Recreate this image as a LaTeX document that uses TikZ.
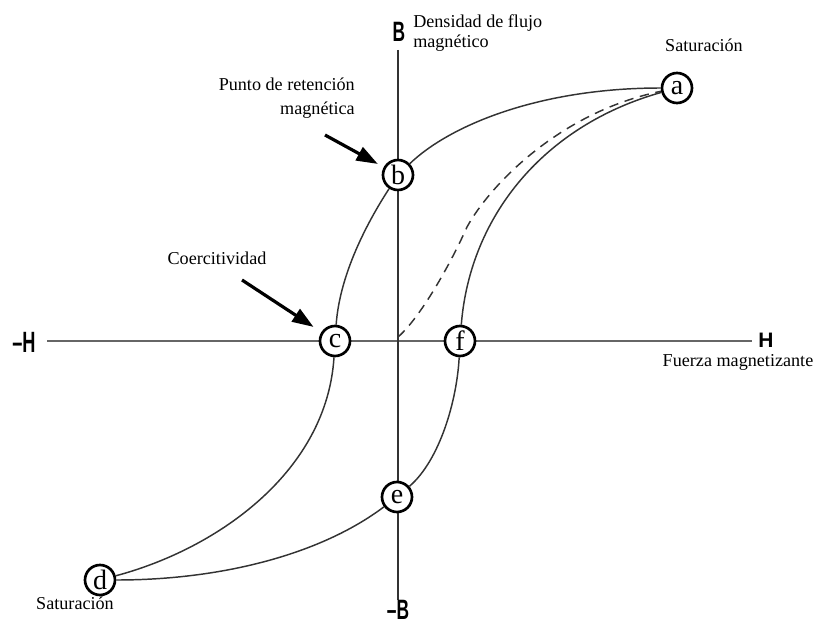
\documentclass[tikz,border=0pt]{standalone}
\usepackage{fontspec}
\setmainfont{Liberation Serif}
\newfontfamily\axfont{Liberation Sans}
\usetikzlibrary{arrows.meta}
\definecolor{curvegray}{HTML}{333333}
\definecolor{axisgray}{HTML}{666666}
\begin{document}
\begin{tikzpicture}[x=0.75pt,y=-0.75pt,
  mpt/.style={circle,draw=black,line width=2pt,fill=white,minimum size=22.5pt,inner sep=0pt,font=\fontsize{21}{21}\selectfont},
  lbl/.style={font=\fontsize{13.6}{15}\selectfont,inner sep=0pt},
  axl/.style={inner sep=0pt},
  hyst/.style={draw=curvegray,line width=1.1pt},
  pointer/.style={draw=black,line width=2.4pt,-{Triangle[length=16pt,width=11pt]}},
]
\useasboundingbox (0,0) rectangle (818,624);
% axes
\coordinate (hl) at (47,341);
\coordinate (hr) at (752,341);
\coordinate (vt) at (398,50);
\coordinate (vb) at (398,600);
\coordinate (o) at (398,337);
\draw[axisgray,line width=2pt] (hl) -- (hr);
\draw[curvegray,line width=1.3pt] (vt) -- (vb);
% points
\node[mpt] (a) at (677,88) {a};
\node[mpt] (b) at (398,175) {b};
\node[mpt] (c) at (335,341) {c};
\node[mpt] (f) at (460,341) {f};
\node[mpt] (e) at (397,497) {e};
\node[mpt] (d) at (100,580) {d};
% hysteresis loop
\draw[hyst] (a) .. controls (540,88) and (450,125) .. (b);
\draw[hyst] (b) .. controls (372,215) and (340,270) .. (c);
\draw[hyst] (c) .. controls (327,470) and (220,548) .. (d);
\draw[hyst] (d) .. controls (220,580) and (320,555) .. (e);
\draw[hyst] (e) .. controls (440,460) and (457,400) .. (f);
\draw[hyst] (f) .. controls (470,215) and (545,125) .. (a);
\coordinate (dm) at (467,227);
\draw[hyst,dash pattern=on 7pt off 5pt] (o) .. controls (420,318) and (450,265) .. (dm) .. controls (490,185) and (560,112) .. (a);
% labels
\node[axl] (B) at (399,32) {\scalebox{0.62}[1]{\axfont\bfseries\fontsize{21}{21}\selectfont B}};
\node[lbl,anchor=west,align=left] (dens) at (413,33) {Densidad de flujo\\magnético};
\node[lbl] (sat1) at (704,45) {Saturación};
\node[lbl,anchor=east,align=right,font=\fontsize{13.6}{18.5}\selectfont] (punto) at (355,98) {Punto de retención\\magnética};
\node[lbl] (coer) at (217,258) {Coercitividad};
\node[axl] (mH) at (24,342) {\scalebox{0.62}[1]{\axfont\bfseries\fontsize{22}{22}\selectfont –H}};
\node[axl] (H) at (766,340) {\axfont\bfseries\fontsize{15.7}{16}\selectfont H};
\node[lbl] (fuerza) at (738,362) {Fuerza magnetizante};
\node[axl] (mB) at (398,610) {\scalebox{0.62}[1]{\axfont\bfseries\fontsize{21}{21}\selectfont –B}};
\node[lbl] (sat2) at (75,603) {Saturación};
% pointers
\coordinate (pb) at (325,135);
\coordinate (pc) at (242,280);
\draw[pointer,shorten >=5pt] (pb) -- (b);
\draw[pointer,shorten >=7pt] (pc) -- (c);
\end{tikzpicture}
\end{document}
